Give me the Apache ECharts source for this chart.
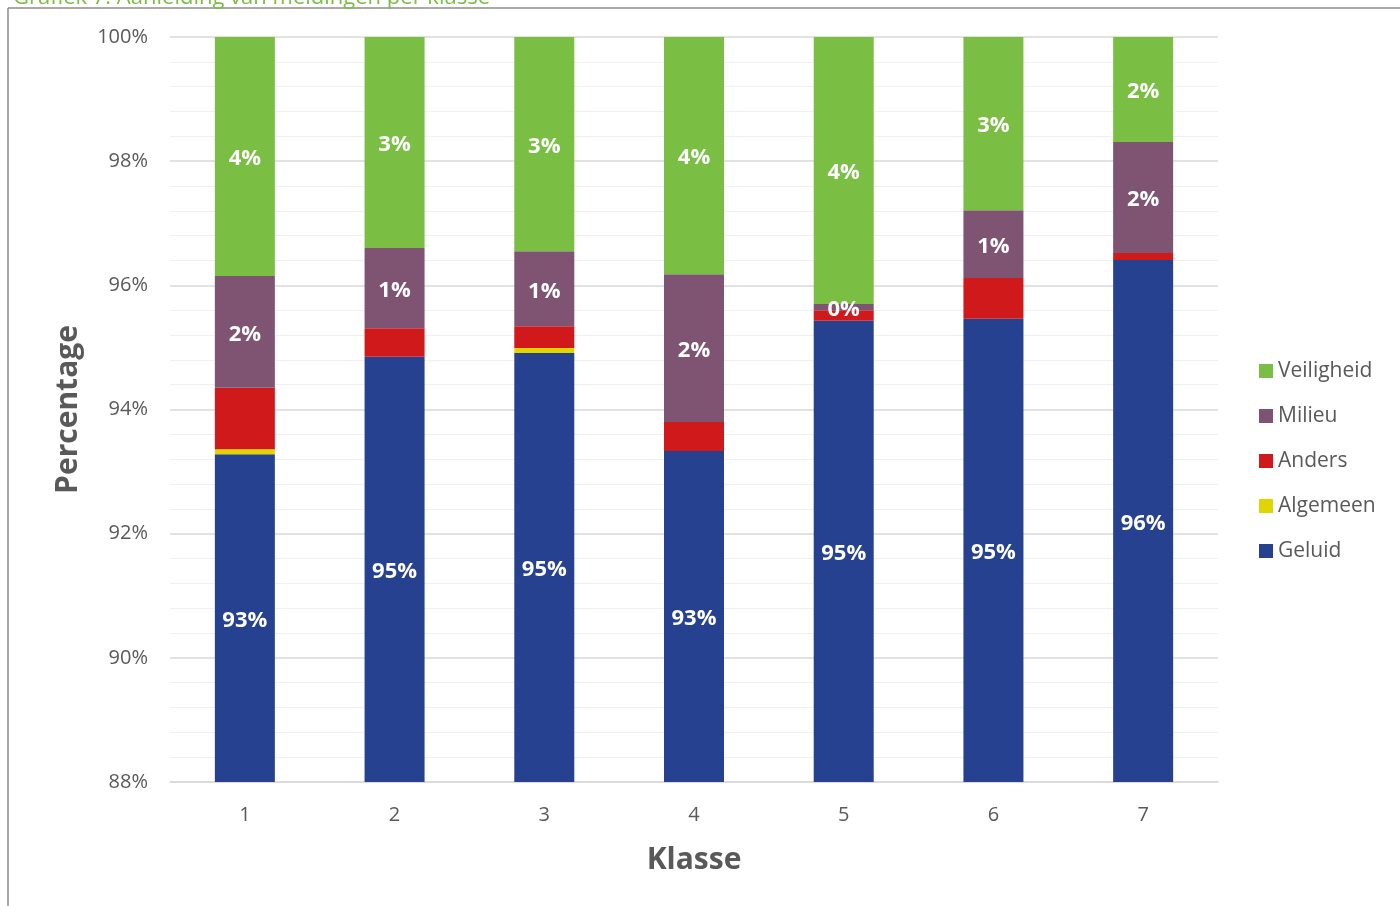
<!DOCTYPE html>
<html>
<head>
<meta charset="utf-8">
<script src="https://cdn.jsdelivr.net/npm/echarts@6/dist/echarts.min.js"></script>
<style>
  html, body { margin: 0; padding: 0; background: #ffffff; }
  #chart { width: 1400px; height: 906px; }
</style>
</head>
<body>
<div id="chart"></div>
<script>
// Share of reports per class (klasse), in percent, per reason
const categories = ['1', '2', '3', '4', '5', '6', '7'];
const geluid     = [93.28, 94.85, 94.91, 93.33, 95.43, 95.46, 96.41];
const algemeen   = [0.08, 0.00, 0.08, 0.00, 0.00, 0.00, 0.00];
const anders     = [0.99, 0.46, 0.35, 0.47, 0.17, 0.66, 0.11];
const milieu     = [1.80, 1.29, 1.21, 2.38, 0.10, 1.09, 1.79];
const veiligheid = [3.85, 3.40, 3.45, 3.82, 4.30, 2.79, 1.69];
const yTicks = [88, 90, 92, 94, 96, 98, 100];

const seriesDefs = [
  { name: 'Geluid',     data: geluid,     color: '#264190', label: true },
  { name: 'Algemeen',   data: algemeen,   color: '#E0D500', label: false },
  { name: 'Anders',     data: anders,     color: '#D0191B', label: false },
  { name: 'Milieu',     data: milieu,     color: '#7F5473', label: true },
  { name: 'Veiligheid', data: veiligheid, color: '#7ABF44', label: true }
];

const font = '"Open Sans", "Noto Sans", sans-serif';
const chart = echarts.init(document.getElementById('chart'), null, { renderer: 'canvas' });

chart.setOption({
  animation: false,
  backgroundColor: '#ffffff',
  title: {
    text: 'Grafiek 7: Aanleiding van meldingen per klasse',
    left: 8,
    top: -18,
    textStyle: { color: '#7ABF44', fontFamily: font, fontSize: 22, fontWeight: 'normal' }
  },
  graphic: [
    { type: 'line', shape: { x1: 8, y1: 8, x2: 1400, y2: 8 }, style: { stroke: '#8c8c8c', lineWidth: 1.5 } },
    { type: 'line', shape: { x1: 8, y1: 8, x2: 8, y2: 906 }, style: { stroke: '#8c8c8c', lineWidth: 1.5 } }
  ],
  legend: {
    orient: 'vertical',
    left: 1254,
    top: 355,
    data: seriesDefs.map(s => s.name).reverse(),
    icon: 'rect',
    itemWidth: 14,
    itemHeight: 14,
    itemGap: 23,
    textStyle: { color: '#595959', fontFamily: font, fontSize: 21, lineHeight: 22 }
  },
  grid: { left: 170, right: 182, top: 37, bottom: 124 },
  xAxis: {
    type: 'category',
    data: categories,
    name: 'Klasse',
    nameLocation: 'middle',
    nameGap: 63,
    nameTextStyle: { color: '#595959', fontFamily: font, fontSize: 30, fontWeight: 'bold' },
    axisLine: { show: true, lineStyle: { color: '#d9d9d9', width: 1.5 } },
    axisTick: { show: false },
    axisLabel: { color: '#595959', fontFamily: font, fontSize: 20, margin: 23 }
  },
  yAxis: {
    type: 'value',
    min: yTicks[0],
    max: yTicks[yTicks.length - 1],
    interval: 2,
    name: 'Percentage',
    nameLocation: 'middle',
    nameGap: 87,
    nameTextStyle: { color: '#595959', fontFamily: font, fontSize: 30, fontWeight: 'bold' },
    axisLine: { show: false },
    axisTick: { show: false },
    axisLabel: { color: '#595959', fontFamily: font, fontSize: 20, margin: 22, formatter: v => v + '%' },
    splitLine: { show: true, lineStyle: { color: '#d9d9d9', width: 1.5 } },
    minorTick: { show: false, splitNumber: 5 },
    minorSplitLine: { show: true, lineStyle: { color: '#f0f0f0', width: 1.2 } }
  },
  series: seriesDefs.map(s => ({
    name: s.name,
    type: 'bar',
    stack: 'total',
    data: s.data,
    barWidth: 60,
    clip: true,
    itemStyle: { color: s.color },
    label: {
      show: s.label,
      position: 'inside',
      offset: [0, 2.5],
      color: '#ffffff',
      fontFamily: font,
      fontSize: 22,
      fontWeight: 'bold',
      formatter: p => Math.round(p.value) + '%'
    }
  }))
});
</script>
</body>
</html>
